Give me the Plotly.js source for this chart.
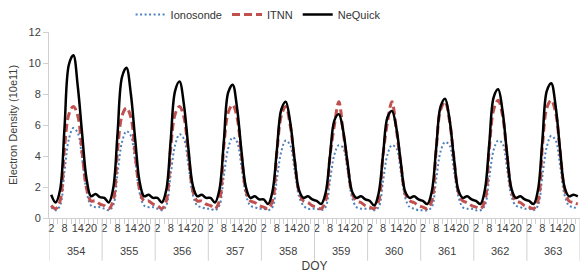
<!DOCTYPE html>
<html>
<head>
<meta charset="utf-8">
<script src="https://cdn.plot.ly/plotly-3.0.1.min.js"></script>
<style>
  html, body { margin: 0; padding: 0; background: #ffffff; }
  #chart { width: 580px; height: 273px; }
</style>
</head>
<body>
<div id="chart"></div>
<script>
// Days of year (DOY) and the two-hourly sampling hours of each day
const days = [354, 355, 356, 357, 358, 359, 360, 361, 362, 363];
const hours = [2, 4, 6, 8, 10, 12, 14, 16, 18, 20, 22, 24];
const labelledHours = [2, 8, 14, 20];

// Electron density (10e11), one row per day, values at the hours above
const ionosonde = [
  0.7, 0.5, 0.8, 3.0, 5.1, 5.8, 5.5, 3.8, 1.7, 0.8, 0.7, 0.7,
  0.6, 0.5, 0.8, 2.9, 4.9, 5.6, 5.3, 3.6, 1.6, 0.8, 0.7, 0.7,
  0.6, 0.5, 0.8, 2.8, 4.7, 5.4, 5.1, 3.4, 1.5, 0.8, 0.7, 0.6,
  0.6, 0.5, 0.8, 2.7, 4.5, 5.2, 4.9, 3.3, 1.5, 0.8, 0.7, 0.6,
  0.6, 0.5, 0.7, 2.5, 4.3, 5.0, 4.7, 3.1, 1.4, 0.8, 0.6, 0.6,
  0.6, 0.5, 0.7, 2.4, 4.1, 4.7, 4.5, 3.0, 1.3, 0.7, 0.6, 0.6,
  0.6, 0.5, 0.7, 2.4, 4.1, 4.7, 4.5, 3.0, 1.3, 0.7, 0.6, 0.5,
  0.5, 0.5, 0.7, 2.5, 4.3, 4.9, 4.7, 3.1, 1.4, 0.7, 0.6, 0.6,
  0.5, 0.5, 0.8, 2.6, 4.4, 5.0, 4.8, 3.2, 1.4, 0.8, 0.7, 0.6,
  0.6, 0.5, 0.8, 2.7, 4.6, 5.3, 5.0, 3.4, 1.5, 0.8, 0.7, 0.6
];
const itnn = [
  0.8, 0.6, 1.1, 4.5, 6.7, 7.2, 6.6, 4.2, 1.9, 1.1, 1.1, 0.9,
  0.8, 0.6, 1.1, 4.4, 6.6, 7.1, 6.5, 4.1, 1.8, 1.1, 1.1, 0.9,
  0.8, 0.6, 1.1, 4.5, 6.7, 7.2, 6.5, 4.1, 1.8, 1.1, 1.1, 0.9,
  0.8, 0.6, 1.1, 4.6, 6.8, 7.3, 6.5, 4.0, 1.8, 1.1, 1.0, 0.8,
  0.7, 0.6, 1.1, 4.2, 6.6, 7.2, 6.0, 3.7, 1.7, 1.1, 1.0, 0.8,
  0.7, 0.6, 1.1, 4.0, 6.0, 7.5, 5.5, 3.4, 1.6, 1.1, 1.0, 0.8,
  0.7, 0.6, 1.1, 4.1, 6.2, 7.5, 5.7, 3.5, 1.6, 1.1, 1.0, 0.8,
  0.7, 0.6, 1.1, 4.4, 7.0, 7.5, 6.3, 3.9, 1.7, 1.1, 1.0, 0.8,
  0.7, 0.6, 1.1, 4.5, 7.0, 7.6, 6.6, 4.1, 1.8, 1.1, 1.0, 0.8,
  0.7, 0.6, 1.1, 4.6, 7.1, 7.6, 6.8, 4.3, 1.9, 1.1, 1.0, 0.9
];
const nequick = [
  1.5, 1.0, 1.8, 5.8, 9.9, 10.5, 8.5, 5.4, 2.5, 1.4, 1.55, 1.35,
  1.3, 1.0, 1.9, 5.5, 9.1, 9.7, 8.0, 5.0, 2.3, 1.4, 1.5, 1.3,
  1.3, 1.0, 1.8, 5.0, 8.2, 8.8, 7.3, 4.5, 2.1, 1.4, 1.5, 1.3,
  1.3, 1.0, 1.8, 4.9, 8.1, 8.6, 7.1, 4.3, 2.0, 1.3, 1.4, 1.2,
  1.2, 0.9, 1.7, 4.4, 7.0, 7.5, 6.2, 3.8, 1.8, 1.3, 1.4, 1.2,
  1.1, 0.9, 1.6, 4.0, 6.3, 6.7, 5.6, 3.5, 1.7, 1.3, 1.4, 1.2,
  1.1, 0.8, 1.6, 4.1, 6.5, 6.9, 5.8, 3.6, 1.7, 1.3, 1.4, 1.2,
  1.1, 0.9, 1.7, 4.5, 7.2, 7.7, 6.4, 3.9, 1.8, 1.3, 1.4, 1.2,
  1.1, 0.9, 1.8, 4.8, 7.8, 8.3, 6.9, 4.2, 1.9, 1.3, 1.4, 1.2,
  1.1, 0.9, 1.8, 5.0, 8.2, 8.7, 7.2, 4.4, 2.0, 1.4, 1.5, 1.4
];

// category positions (one slot per sample)
const n = days.length * hours.length;
const xs = [];
for (let i = 0; i < n; i++) xs.push(i);

const tickvals = [], ticktext = [];
days.forEach((d, di) => {
  hours.forEach((h, hi) => {
    if (labelledHours.includes(h)) {
      tickvals.push(di * hours.length + hi);
      ticktext.push(String(h));
    }
  });
});

const font = "'Liberation Sans', Arial, Helvetica, sans-serif";
const textColor = '#404040';
const axisColor = '#d0d0d0';

const traces = [
  { x: xs, y: ionosonde, name: 'Ionosonde', type: 'scatter', mode: 'lines',
    line: { color: '#4f81bd', width: 2, dash: '2px,2.5px', shape: 'spline', smoothing: 1 } },
  { x: xs, y: itnn, name: 'ITNN', type: 'scatter', mode: 'lines',
    line: { color: '#c0504d', width: 3, dash: '8px,4px', shape: 'spline', smoothing: 1 } },
  { x: xs, y: nequick, name: 'NeQuick', type: 'scatter', mode: 'lines',
    line: { color: '#000000', width: 2.5, shape: 'spline', smoothing: 1 } }
];

const shapes = [];
for (let k = 0; k <= days.length; k++) {
  shapes.push({ type: 'line', xref: 'x', yref: 'paper',
    x0: k * hours.length - 0.5, x1: k * hours.length - 0.5, y0: 0, y1: -0.23,
    line: { color: axisColor, width: 1 } });
}
const annotations = days.map((d, di) => ({
  xref: 'x', yref: 'paper', x: di * hours.length + (hours.length - 1) / 2, y: 0,
  yanchor: 'middle', yshift: -33, showarrow: false, text: String(d),
  font: { family: font, size: 11, color: textColor }
}));

const layout = {
  width: 580, height: 273,
  margin: { l: 49, r: 0, t: 32, b: 55 },
  paper_bgcolor: '#ffffff', plot_bgcolor: '#ffffff',
  font: { family: font, size: 11, color: textColor },
  showlegend: true,
  legend: { orientation: 'h', xref: 'container', yref: 'container',
    x: 0.445, xanchor: 'center', y: 1, yanchor: 'top',
    font: { family: font, size: 11, color: '#333333' },
    itemwidth: 30, tracegroupgap: 0, bgcolor: 'rgba(0,0,0,0)' },
  xaxis: {
    range: [-0.5, n - 0.5],
    tickmode: 'array', tickvals: tickvals, ticktext: ticktext,
    ticks: '', showgrid: false, zeroline: false,
    showline: true, linecolor: axisColor, linewidth: 1,
    tickfont: { family: font, size: 11, color: textColor },
    tickangle: 0,
    minor: { tickmode: 'linear', tick0: -0.5, dtick: 1, ticks: 'outside', ticklen: 5,
      tickcolor: axisColor, tickwidth: 1, showgrid: false },
    title: { text: 'DOY', font: { family: font, size: 12, color: textColor }, standoff: 30 }
  },
  yaxis: {
    range: [0, 12], tickmode: 'linear', tick0: 0, dtick: 2,
    ticks: 'outside', ticklen: 5, tickcolor: axisColor,
    showgrid: false, zeroline: false,
    showline: true, linecolor: axisColor, linewidth: 1,
    tickfont: { family: font, size: 11, color: textColor },
    title: { text: 'Electron Density (10e11)', font: { family: font, size: 11, color: textColor }, standoff: 8 }
  },
  shapes: shapes,
  annotations: annotations
};

Plotly.newPlot('chart', traces, layout, { displayModeBar: false, staticPlot: true });
</script>
</body>
</html>
